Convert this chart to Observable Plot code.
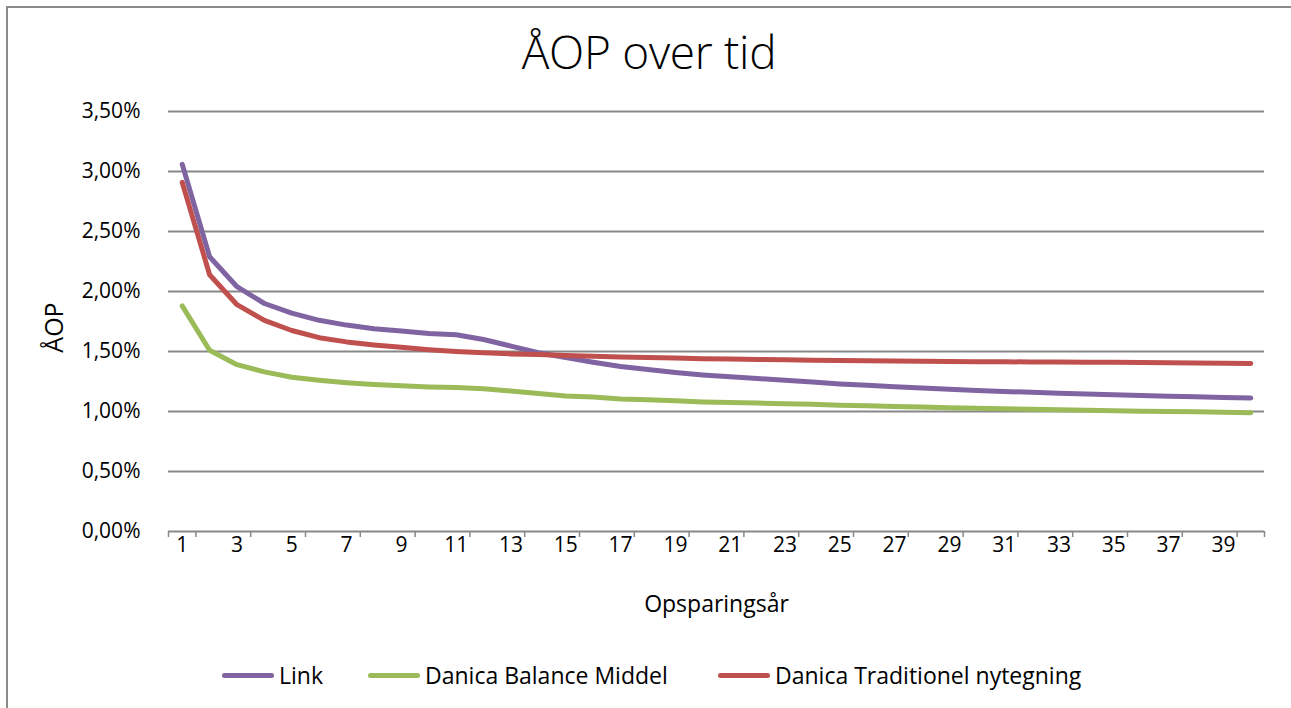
<!DOCTYPE html>
<html>
<head>
<meta charset="utf-8">
<script src="https://cdn.jsdelivr.net/npm/d3@7"></script>
<script src="https://cdn.jsdelivr.net/npm/@observablehq/plot@0.6"></script>
<style>
  html, body { margin: 0; padding: 0; background: #fff; }
  #wrap { position: relative; width: 1291px; height: 708px; overflow: hidden; font-family: "Open Sans", sans-serif; }
  #frame { position: absolute; left: 6px; top: 6px; width: 1300px; height: 720px; border-left: 2px solid #8a8a8a; border-top: 2px solid #8a8a8a; box-sizing: border-box; }
  #title { position: absolute; left: 0; width: 1298px; top: 20px; text-align: center; font-size: 46px; font-weight: 300; color: #000; letter-spacing: -0.3px; }
  #chart { position: absolute; left: 0; top: 0; }
  #legend { position: absolute; top: 660px; left: 0; width: 1291px; height: 30px; font-size: 23px; color: #000; }
  .item { position: absolute; top: 0; display: flex; align-items: center; height: 30px; }
  .swatch { width: 52px; height: 5px; border-radius: 3px; margin-right: 5px; }
</style>
</head>
<body>
<div id="wrap">
  <div id="frame"></div>
  <div id="title">ÅOP over tid</div>
  <div id="chart"></div>
  <div id="legend"></div>
</div>
<script>
const years = [1,2,3,4,5,6,7,8,9,10,11,12,13,14,15,16,17,18,19,20,21,22,23,24,25,26,27,28,29,30,31,32,33,34,35,36,37,38,39,40];
const link = [3.06,2.29,2.04,1.90,1.82,1.76,1.72,1.69,1.67,1.65,1.64,1.60,1.545,1.49,1.45,1.41,1.375,1.35,1.325,1.305,1.29,1.275,1.26,1.245,1.23,1.218,1.207,1.196,1.186,1.176,1.167,1.16,1.153,1.146,1.14,1.134,1.128,1.122,1.117,1.112];
const balance = [1.88,1.51,1.39,1.33,1.285,1.26,1.24,1.225,1.215,1.205,1.20,1.19,1.17,1.15,1.13,1.12,1.105,1.097,1.09,1.08,1.075,1.07,1.065,1.06,1.053,1.047,1.042,1.037,1.032,1.027,1.022,1.018,1.014,1.01,1.006,1.003,1.0,0.997,0.994,0.99];
const traditionel = [2.91,2.14,1.89,1.76,1.675,1.615,1.58,1.555,1.535,1.515,1.50,1.49,1.48,1.475,1.467,1.46,1.455,1.45,1.445,1.44,1.437,1.434,1.431,1.428,1.425,1.423,1.421,1.419,1.417,1.415,1.414,1.413,1.412,1.411,1.41,1.408,1.406,1.404,1.402,1.40];
const seriesNames = ["Link", "Danica Balance Middel", "Danica Traditionel nytegning"];
const seriesColors = ["#8064A2", "#9BBB59", "#C0504D"];
const yTicks = [0, 0.005, 0.01, 0.015, 0.02, 0.025, 0.03, 0.035];
const xTickLabels = [1,3,5,7,9,11,13,15,17,19,21,23,25,27,29,31,33,35,37,39];
const xTitle = "Opsparingsår";
const yTitle = "ÅOP";

const seriesValues = [link, balance, traditionel];
const rows = [];
seriesNames.forEach((name, s) => {
  years.forEach((yr, i) => rows.push({series: name, year: yr, value: seriesValues[s][i] / 100}));
});

const fmt = d => (d * 100).toFixed(2).replace(".", ",") + "%";
const boundaryTicks = [0.5, ...xTickLabels.map(d => d + 0.5), years[years.length - 1] + 0.5];
const font = "'Open Sans', sans-serif";

const plot = Plot.plot({
  width: 1291,
  height: 630,
  marginLeft: 168,
  marginRight: 27,
  marginTop: 111,
  marginBottom: 99,
  style: {fontFamily: font, background: "transparent", overflow: "visible"},
  x: {domain: [0.5, 40.5]},
  y: {domain: [0, 0.035]},
  color: {domain: seriesNames, range: seriesColors},
  marks: [
    Plot.gridY(yTicks, {stroke: "#888888", strokeOpacity: 1, strokeWidth: 2}),
    Plot.axisY(yTicks, {tickSize: 0, tickPadding: 28, tickFormat: fmt, fontSize: 21, fill: "#000", label: null}),
    Plot.axisX(boundaryTicks, {tickSize: 6, stroke: "#888888", strokeWidth: 1.5, tickFormat: () => "", label: null}),
    Plot.axisX(xTickLabels, {tickSize: 0, tickPadding: 6, fontSize: 21, fill: "#000", label: null}),
    Plot.text([xTitle], {frameAnchor: "bottom", dy: 80, fontSize: 23, fill: "#000"}),
    Plot.text([yTitle], {frameAnchor: "left", textAnchor: "middle", dx: -114, dy: 6, rotate: -90, fontSize: 25, fill: "#000"}),
    Plot.lineY(rows, {x: "year", y: "value", z: "series", stroke: "series", strokeWidth: 5, strokeLinecap: "round", strokeLinejoin: "round"})
  ]
});
document.getElementById("chart").appendChild(plot);

const legend = document.getElementById("legend");
const legendX = [222, 368, 718];
seriesNames.forEach((name, i) => {
  const item = document.createElement("div");
  item.className = "item";
  item.style.left = legendX[i] + "px";
  const sw = document.createElement("div");
  sw.className = "swatch";
  sw.style.background = seriesColors[i];
  const t = document.createElement("span");
  t.textContent = name;
  item.appendChild(sw);
  item.appendChild(t);
  legend.appendChild(item);
});
</script>
</body>
</html>
